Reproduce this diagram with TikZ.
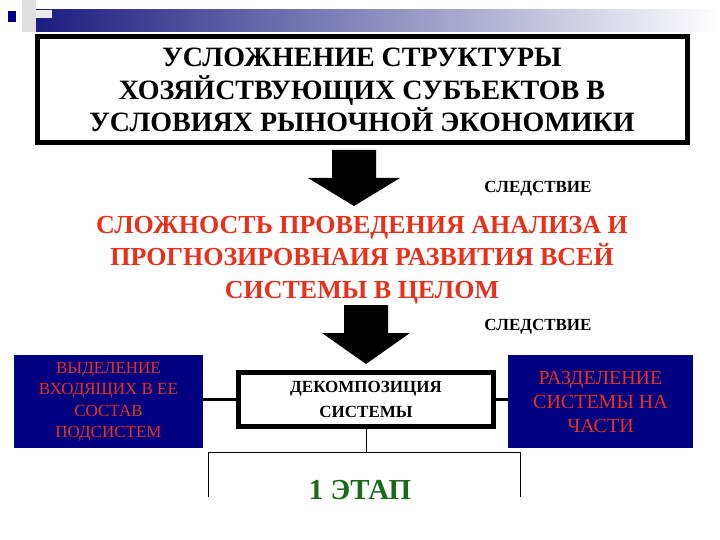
\documentclass[tikz,border=0pt]{standalone}
\usepackage{fontspec}
\setmainfont{Liberation Serif}
\definecolor{navy}{HTML}{000080}
\definecolor{redt}{HTML}{E8301A}
\definecolor{grn}{HTML}{1A6A1A}
\definecolor{bar}{HTML}{1C1C80}
\begin{document}
\begin{tikzpicture}[x=1pt,y=-1pt,
  blue box/.style={fill=navy,draw=none,text=redt,align=center,font=\fontsize{17}{21.5}\selectfont},
  big arrow/.style={fill=black}]
\useasboundingbox (0,0) rectangle (720,540);
\fill[white] (0,0) rectangle (720,540);
% decoration
\shade[left color=bar,right color=white] (35,10) rectangle (720,32);
\fill[gray!25] (22,0) rectangle (36,32);
\fill[gray!15] (36,10) rectangle (52,18);
\fill[navy] (8,11) rectangle (16,22);
% title
\node[draw=black,line width=5pt,minimum width=650pt,minimum height=106pt,align=center,
  font=\bfseries\fontsize{28}{32.5}\selectfont] (title) at (362,90)
  {УСЛОЖНЕНИЕ СТРУКТУРЫ\\ХОЗЯЙСТВУЮЩИХ СУБЪЕКТОВ В\\УСЛОВИЯХ РЫНОЧНОЙ ЭКОНОМИКИ};
% arrow 1
\fill[big arrow] (332,150) -- (376,150) -- (376,178) -- (400,178) -- (354,206) -- (308,178) -- (332,178) -- cycle;
\node[font=\bfseries\fontsize{17}{20}\selectfont] (s1) at (538,189) {СЛЕДСТВИЕ};
\node[text=redt,font=\bfseries\fontsize{26}{32.5}\selectfont,align=center] (mid) at (362,260)
  {СЛОЖНОСТЬ ПРОВЕДЕНИЯ АНАЛИЗА И\\ПРОГНОЗИРОВНАИЯ РАЗВИТИЯ ВСЕЙ\\СИСТЕМЫ В ЦЕЛОМ};
% arrow 2
\fill[big arrow] (344,305) -- (388,305) -- (388,333) -- (410,333) -- (366,364) -- (322,333) -- (344,333) -- cycle;
\node[font=\bfseries\fontsize{17}{20}\selectfont] (s2) at (538,327) {СЛЕДСТВИЕ};
% boxes
\node[blue box,minimum width=189pt,minimum height=93pt] (L) at (108.5,401.5)
  {ВЫДЕЛЕНИЕ\\ВХОДЯЩИХ В ЕЕ\\СОСТАВ\\ПОДСИСТЕМ};
\node[blue box,font=\fontsize{20}{24}\selectfont,minimum width=185pt,minimum height=93pt] (R) at (600.5,401.5)
  {РАЗДЕЛЕНИЕ\\СИСТЕМЫ НА\\ЧАСТИ};
\node[draw=black,line width=5pt,minimum width=255pt,minimum height=54pt,align=center,
  font=\bfseries\fontsize{17}{25}\selectfont] (C) at (366,399) {ДЕКОМПОЗИЦИЯ\\СИСТЕМЫ};
\draw[line width=3pt] (L.east |- C.west) -- (C.west);
\draw[line width=3pt] (C.east) -- (R.west |- C.east);
\coordinate (j) at (C.south |- 0,452);
\coordinate (bl) at (208,452);
\coordinate (br) at (520,452);
\draw[line width=1pt] (C.south) -- (j);
\draw[line width=1pt] (208,497) -- (bl) -- (br) -- (520,497);
\node[text=grn,font=\bfseries\fontsize{29}{30}\selectfont] (etap) at (360,490) {1 ЭТАП};
\end{tikzpicture}
\end{document}
